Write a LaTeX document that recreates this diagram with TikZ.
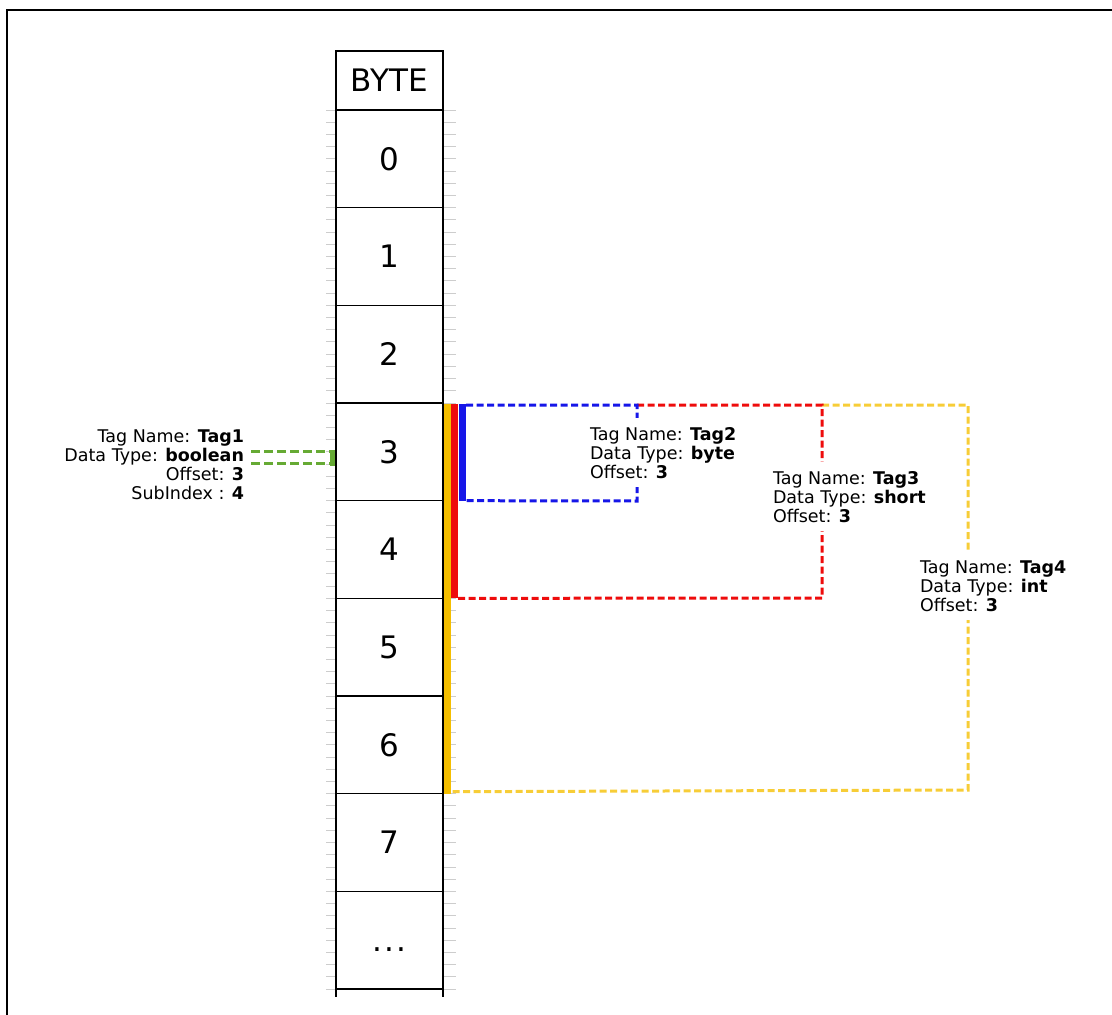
\documentclass[tikz,border=0pt]{standalone}
\usepackage{fontspec}
\setmainfont{DejaVu Sans}
\usetikzlibrary{positioning}
\definecolor{baryellow}{RGB}{244,190,0}
\definecolor{dashyellow}{RGB}{247,205,55}
\definecolor{barred}{RGB}{238,12,12}
\definecolor{barblue}{RGB}{22,22,232}
\definecolor{bitgreen}{RGB}{102,170,52}
\definecolor{tickgray}{RGB}{205,205,205}
\begin{document}
\begin{tikzpicture}[x=1pt,y=-1pt,node distance=0pt,every node/.style={inner sep=0pt,outer sep=0pt}]
\tikzstyle{cell}=[draw,line width=1.5pt,minimum width=107pt,minimum height=97.67pt,text height=22.6pt,text depth=0pt,font=\fontsize{31}{36}\selectfont]
\tikzstyle{tag}=[align=left,fill=white,inner xsep=2pt,inner ysep=9pt,font=\fontsize{17.5}{19}\selectfont,anchor=base west]
\tikzstyle{bar}=[line width=7pt]
\tikzstyle{link}=[line width=3pt,dash pattern=on 7pt off 3.5pt]

\useasboundingbox (0,0) rectangle (1112,1015);
\draw[line width=2pt] (7,1015) |- (1112,10);

\foreach \k in {0,...,72}{
  \draw[tickgray,line width=1pt] (326,110+\k*12.21) -- (336,110+\k*12.21);
  \draw[tickgray,line width=1pt] (443,110+\k*12.21) -- (456,110+\k*12.21);
}

\node[cell,minimum height=59pt](hdr) at (389.5,80.5){BYTE};
\node[cell,below=of hdr](b0){0};
\node[cell,below=of b0](b1){1};
\node[cell,below=of b1](b2){2};
\node[cell,below=of b2](b3){3};
\node[cell,below=of b3](b4){4};
\node[cell,below=of b4](b5){5};
\node[cell,below=of b5](b6){6};
\node[cell,below=of b6](b7){7};
\node[cell,below=of b7](bd){.\hspace{2.5pt}.\hspace{2.5pt}.};
\draw[line width=1.5pt] (bd.south west) -- ++(0,8);
\draw[line width=1.5pt] (bd.south east) -- ++(0,8);

\draw[bar,baryellow] ([xshift=4.5pt,yshift=-1pt]b3.north east) -- ([xshift=4.5pt]b6.south east);
\draw[bar,barred] ([xshift=11.5pt,yshift=-1pt]b3.north east) -- ([xshift=11.5pt]b4.south east);
\draw[bar,barblue] ([xshift=19pt,yshift=-1pt]b3.north east) -- ([xshift=19pt]b3.south east);

\coordinate (c2) at (637,405);
\coordinate (c3) at (822,405);
\coordinate (c4) at (968,405);
\draw[link,dashyellow] (c3) -- (c4) -- (968,790) -- ([xshift=8pt,yshift=2pt]b6.south east);
\draw[link,barred] (c2) -- (c3) -- (822,598) -- ([xshift=15pt]b4.south east);
\draw[link,barblue] ([xshift=23pt,yshift=-2pt]b3.north east) -- (c2) -- (637,501) -- ([xshift=23pt]b3.south east);

\node[tag,align=right,anchor=base east](t1) at (246,499){Tag Name: \textbf{Tag1}\\Data Type: \textbf{boolean}\\Offset: \textbf{3}\\SubIndex : \textbf{4}};
\node[tag](t2) at (588,478){Tag Name: \textbf{Tag2}\\Data Type: \textbf{byte}\\Offset: \textbf{3}};
\node[tag](t3) at (771,522){Tag Name: \textbf{Tag3}\\Data Type: \textbf{short}\\Offset: \textbf{3}};
\node[tag](t4) at (918,611){Tag Name: \textbf{Tag4}\\Data Type: \textbf{int}\\Offset: \textbf{3}};

\coordinate (g1) at (b3.west);
\coordinate (g2) at ([yshift=-12pt]b3.west);
\draw[link,bitgreen,dash pattern=on 9pt off 4pt] ([xshift=5pt]g1 -| t1.east) -- ([xshift=-6pt]g1);
\draw[link,bitgreen,dash pattern=on 9pt off 4pt] ([xshift=5pt]g2 -| t1.east) -- ([xshift=-6pt]g2);
\draw[bitgreen,line width=5pt] ([xshift=-3.5pt,yshift=2pt]g1) -- ([xshift=-3.5pt,yshift=-2pt]g2);
\end{tikzpicture}
\end{document}
